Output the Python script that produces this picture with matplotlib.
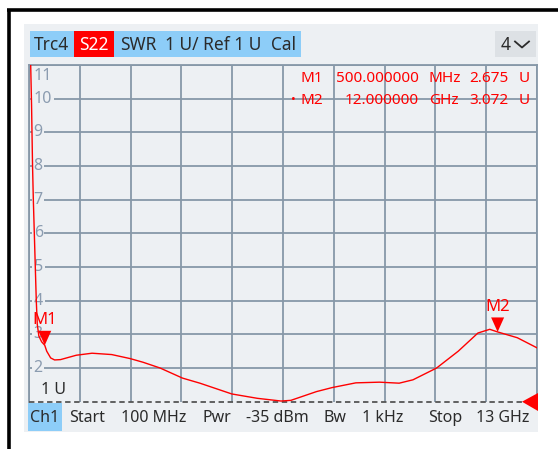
import numpy as np
import matplotlib.pyplot as plt
from matplotlib.patches import Rectangle, Polygon

plt.rcParams['font.family'] = ['Noto Sans', 'DejaVu Sans']

# trace data (frequency in GHz, SWR in U)
freq_ghz = [0.1, 0.143, 0.165, 0.19, 0.21, 0.235, 0.26, 0.285, 0.31, 0.35, 0.42,
            0.5, 0.55, 0.65, 0.75, 0.9, 1.3, 1.7, 2.2, 2.67, 3.0, 3.43, 4.0,
            4.44, 5.25, 5.9, 6.5, 6.75, 7.4, 7.8, 8.4, 9.0, 9.5, 9.85, 10.45,
            11.0, 11.5, 11.8, 12.0, 12.5, 13.0]
swr = [13.5, 11.0, 9.8, 8.0, 7.0, 6.0, 5.0, 4.0, 3.3, 2.95, 2.78,
       2.675, 2.5, 2.3, 2.24, 2.25, 2.38, 2.44, 2.40, 2.28, 2.17, 2.0, 1.70,
       1.55, 1.23, 1.10, 1.02, 1.04, 1.30, 1.42, 1.56, 1.58, 1.55, 1.65, 2.0,
       2.5, 3.04, 3.15, 3.072, 2.9, 2.6]

marker_names = ['M1', 'M2']
marker_freq = [0.5, 12.0]
marker_val = [2.675, 3.072]
marker_freq_txt = ['500.000000', '12.000000']
marker_unit = ['MHz', 'GHz']
marker_val_txt = ['2.675', '3.072']

y_labels = ['2', '3', '4', '5', '6', '7', '8', '9', '10', '11']
header = ['Trc4', 'S22', 'SWR', '1 U/ Ref 1 U', 'Cal']
footer = ['Ch1', 'Start', '100 MHz', 'Pwr', '-35 dBm', 'Bw', '1 kHz', 'Stop', '13 GHz']

W, H = 558, 449
fig = plt.figure(figsize=(W / 100, H / 100), dpi=100)

# pixel-space axes for the frame and panels
bg = fig.add_axes([0, 0, 1, 1])
bg.set_xlim(0, W)
bg.set_ylim(H, 0)
bg.axis('off')

panel = '#edf0f3'
grid_c = '#8798a8'
txt_c = '#2b2b2b'
red = '#ff0000'

bg.add_patch(Rectangle((24, 24), 514, 408, color=panel, lw=0))
bg.plot([7, W], [10, 10], color='black', lw=2.6, solid_capstyle='butt')
bg.plot([8.7, 8.7], [8.5, H], color='black', lw=2.6, solid_capstyle='butt')

# header bar
bg.add_patch(Rectangle((30, 31), 271, 26, color='#8dcdf8', lw=0))
bg.add_patch(Rectangle((74, 31), 40, 26, color='#ff0000', lw=0))
bg.add_patch(Rectangle((495, 31), 41, 26, color='#dde1e5', lw=0))
hx = [51, 94, 138, 213, 283]
for s, x in zip(header, hx):
    bg.text(x, 44.5, s, ha='center', va='center', fontsize=12.5,
            color='white' if s == 'S22' else txt_c)
bg.text(506, 44.5, '4', ha='center', va='center', fontsize=12.5, color=txt_c)
bg.plot([515, 522, 529], [41.5, 47.5, 41.5], color=txt_c, lw=1.3)

# footer bar
bg.add_patch(Rectangle((28, 403), 34, 28, color='#8dcdf8', lw=0))
fx = [45, 87, 154, 217, 277, 335, 383, 445, 503]
for s, x in zip(footer, fx):
    bg.text(x, 417.5, s, ha='center', va='center', fontsize=11.5, color=txt_c)

# diagram area
ax = fig.add_axes([29 / W, 1 - 401.7 / H, 508 / W, (401.7 - 65) / H])
ax.set_facecolor('none')
ax.set_xlim(0.1, 13.0)
ax.set_ylim(1, 11)
ax.set_xticks(np.linspace(0.1, 13.0, 11))
ax.set_yticks(range(2, 12))
ax.tick_params(length=0, labelbottom=False, labelleft=False)
ax.grid(True, color=grid_c, lw=1.3)
for side in ['left', 'right', 'top']:
    ax.spines[side].set_color(grid_c)
    ax.spines[side].set_linewidth(1.3)
ax.spines['bottom'].set_visible(False)
ax.axhline(1, color='#555555', lw=1.3, ls=(0, (3, 2)), clip_on=False, zorder=3)

for i, s in enumerate(y_labels):
    yv = i + 2 if s != '11' else 10.68
    ax.text(0.22, yv, s, ha='left', va='center', fontsize=11.5, color='#8b9cb0',
            bbox=dict(boxstyle='square,pad=0.1', fc=panel, ec='none'), zorder=2)
ax.text(0.4, 1.35, '1 U', ha='left', va='center', fontsize=11.5, color=txt_c)

ax.plot(freq_ghz, swr, color=red, lw=1.0, zorder=4)

# overlay for markers and readout, above the diagram
top = fig.add_axes([0, 0, 1, 1])
top.set_xlim(0, W)
top.set_ylim(H, 0)
top.axis('off')

# markers: downward triangle with its tip on the trace
for name, f, v in zip(marker_names, marker_freq, marker_val):
    px, py = ax.transData.transform((f, v))
    py = H - py
    top.add_patch(Polygon([[px, py], [px - 6.5, py - 14.5], [px + 6.5, py - 14.5]],
                          color=red, lw=0))
    top.text(px, py - 25, name, ha='center', va='center', fontsize=12, color=red,
             fontweight='bold' if name == 'M2' else 'normal')

# marker readout
for i in range(2):
    y = 79 + 21 * i
    top.text(323, y, marker_names[i], ha='right', va='center', fontsize=11, color=red)
    top.text(419, y, marker_freq_txt[i], ha='right', va='center', fontsize=11, color=red)
    top.text(429, y, marker_unit[i], ha='left', va='center', fontsize=11, color=red)
    top.text(508, y, marker_val_txt[i], ha='right', va='center', fontsize=11, color=red)
    top.text(530, y, 'U', ha='right', va='center', fontsize=11, color=red)
top.text(293, 100, '•', ha='center', va='center', fontsize=9, color=red)

# reference level arrow
top.add_patch(Polygon([[522, 401.7], [538, 393], [538, 411]], color=red, lw=0))

fig.savefig('out.png', dpi=100)
